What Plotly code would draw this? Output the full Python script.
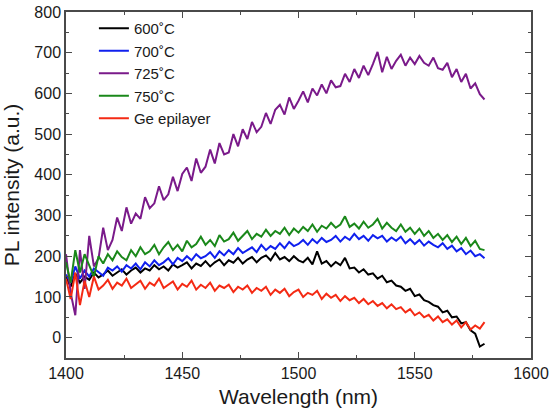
import plotly.graph_objects as go

wavelength = list(range(1400, 1581, 2))

s600 = [150, 125, 158, 135, 150, 142, 160, 148, 155, 165,
        152, 160, 168, 155, 165, 172, 160, 170, 165, 178,
        168, 175, 165, 180, 172, 178, 185, 170, 182, 176,
        188, 175, 185, 192, 178, 190, 184, 196, 182, 192,
        198, 185, 196, 202, 190, 208, 192, 198, 188, 200,
        190, 185, 196, 180, 212, 182, 188, 175, 186, 178,
        196, 170, 172, 160, 168, 155, 158, 145, 152, 136,
        140, 128, 125, 115, 120, 102, 106, 92, 88, 80,
        76, 62, 66, 50, 52, 35, 38, 18, 10, -22, -15]

s700 = [155, 135, 175, 145, 165, 150, 170, 160, 152, 172,
        165, 175, 162, 178, 170, 182, 168, 185, 175, 190,
        178, 185, 195, 180, 196, 188, 200, 190, 205, 195,
        200, 210, 196, 212, 202, 215, 205, 220, 208, 215,
        222, 210, 228, 215, 225, 218, 232, 220, 235, 225,
        230, 240, 228, 242, 232, 245, 235, 240, 250, 236,
        248, 240, 255, 242, 250, 238, 252, 244, 250, 236,
        246, 238, 248, 232, 242, 230, 240, 226, 236, 228,
        222, 232, 218, 226, 212, 220, 205, 214, 200, 205, 195]

s725 = [205, 110, 55, 215, 120, 250, 175, 195, 270, 215,
        240, 295, 262, 320, 280, 305, 292, 345, 318, 330,
        372, 338, 352, 395, 360, 402, 418, 385, 440, 405,
        420, 462, 428, 478, 450, 455, 500, 470, 512, 488,
        530, 505, 518, 552, 525, 560, 572, 548, 590, 562,
        582, 605, 578, 612, 595, 622, 600, 632, 615, 618,
        648, 628, 660, 638, 668, 645, 672, 702, 652, 690,
        660, 680, 695, 668, 688, 672, 692, 675, 668, 688,
        662, 658, 675, 640, 660, 628, 648, 612, 625, 598, 585]

s750 = [185, 135, 215, 160, 205, 175, 150, 200, 182, 205,
        190, 212, 198, 190, 215, 200, 222, 205, 212, 228,
        205, 222, 235, 215, 228, 212, 238, 222, 230, 248,
        228, 240, 225, 252, 236, 242, 258, 238, 250, 262,
        242, 255, 248, 265, 250, 262, 255, 270, 252, 268,
        258, 272, 262, 278, 260, 275, 268, 282, 270, 278,
        298, 272, 280, 268, 285, 270, 278, 292, 268, 282,
        270, 262, 278, 260, 270, 255, 268, 250, 262, 245,
        255, 240, 252, 235, 248, 230, 245, 225, 238, 218, 215]

s_ge = [145, 95, 160, 80, 140, 100, 150, 118, 128, 142,
        120, 135, 128, 145, 122, 132, 140, 120, 135, 128,
        145, 122, 130, 138, 118, 132, 125, 140, 118, 130,
        122, 135, 115, 128, 122, 130, 112, 125, 118, 128,
        110, 122, 115, 125, 105, 118, 110, 120, 102, 112,
        118, 100, 110, 105, 115, 95, 108, 98, 105, 90,
        102, 92, 98, 85, 95, 82, 90, 78, 85, 72,
        82, 70, 75, 62, 70, 55, 62, 50, 56, 42,
        52, 38, 45, 32, 42, 25, 38, 20, 30, 22, 38]

names = ["600\u02daC", "700\u02daC", "725\u02daC", "750\u02daC", "Ge epilayer"]
series = [s600, s700, s725, s750, s_ge]
colors = ["#000000", "#1020ee", "#7a1a8a", "#1a881a", "#f42a14"]

fig = go.Figure()
for n, s, c in zip(names, series, colors):
    fig.add_trace(go.Scatter(x=wavelength, y=s, mode="lines", name=n,
                             line=dict(color=c, width=2)))

FONT = "Arial, Liberation Sans, Helvetica"
axis_common = dict(showline=True, linecolor="#4a4a4a", linewidth=1.5, mirror="ticks",
                   ticks="inside", ticklen=6, tickwidth=1, tickcolor="#4a4a4a",
                   showgrid=False, zeroline=False, automargin=False,
                   tickfont=dict(family=FONT, size=16, color="#1a1a1a"),
                   minor=dict(ticks="inside", ticklen=3, tickwidth=1, tickcolor="#4a4a4a"))

fig.update_xaxes(range=[1400, 1600], dtick=50, tick0=1400,
                 title=dict(text="Wavelength (nm)",
                            font=dict(family=FONT, size=21, color="#1a1a1a")),
                 minor_dtick=25, **axis_common)
fig.update_yaxes(range=[-50, 800], dtick=100, tick0=0,
                 title=dict(text="PL intensity (a.u.)",
                            font=dict(family=FONT, size=21, color="#1a1a1a")),
                 minor_dtick=50, **axis_common)

fig.update_layout(width=551, height=408,
                  margin=dict(l=66, r=20, t=12, b=50),
                  plot_bgcolor="white", paper_bgcolor="white",
                  legend=dict(x=0.06, y=1.0, xanchor="left", yanchor="top",
                              bgcolor="rgba(0,0,0,0)", tracegroupgap=0,
                              font=dict(family=FONT, size=15, color="#1a1a1a")),
                  showlegend=True)

fig.write_html("out.html")
